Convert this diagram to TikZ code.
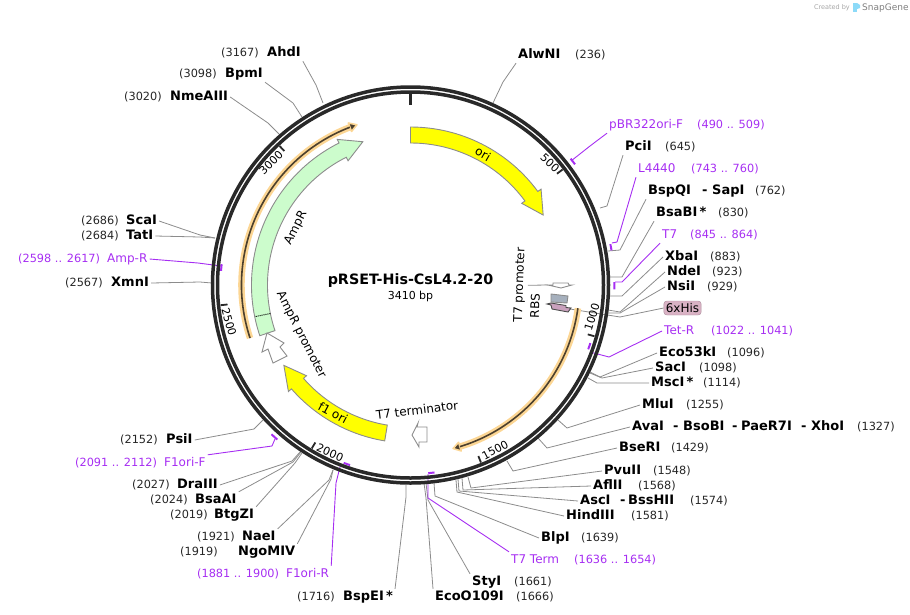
\documentclass[tikz,border=0pt]{standalone}
\usepackage{fontspec}
\setmainfont{DejaVu Sans}
\usetikzlibrary{calc}
\newcommand{\BPTOTAL}{3410}
\newcommand{\LINEPT}{3.5pt}
\definecolor{myring}{rgb}{0.16,0.16,0.16}
\definecolor{mypurple}{rgb}{0.65,0.18,0.95}
\definecolor{mygrey}{rgb}{0.55,0.55,0.55}
\definecolor{myyellow}{rgb}{1.0,1.0,0.0}
\definecolor{mygreen}{rgb}{0.80,0.99,0.80}
\definecolor{myorange}{rgb}{0.99,0.84,0.58}
\definecolor{mybrown}{rgb}{0.30,0.25,0.18}
\definecolor{myslate}{rgb}{0.65,0.69,0.74}
\definecolor{mypink}{rgb}{0.79,0.63,0.74}
\definecolor{myhis}{rgb}{0.85,0.70,0.77}
\tikzset{
	enzlabel/.style={font=\fontsize{13}{15}\selectfont\bfseries,inner sep=2pt,anchor=west,xshift=-2pt,yshift=-1pt,text height=9.5pt,text depth=2.5pt},
	numlabel/.style={font=\fontsize{11.3}{14}\selectfont,color=black!85,inner sep=2pt,anchor=west,xshift=-2pt,yshift=-1pt,text height=9.5pt,text depth=2.5pt},
	primlabel/.style={font=\fontsize{12}{14}\selectfont,color=mypurple,inner sep=2pt,anchor=west,xshift=-2pt,yshift=-1pt,text height=9.5pt,text depth=2.5pt},
	primnum/.style={numlabel,color=mypurple},
	featlabel/.style={font=\fontsize{12}{14}\selectfont,inner sep=2pt},
	ticklabel/.style={font=\fontsize{11}{13}\selectfont,inner sep=1pt},
	leader/.style={color=mygrey,line width=0.8pt},
	primleader/.style={color=mypurple,line width=0.9pt},
	primmark/.style={color=mypurple,line width=2pt},
	feat/.style={draw=mygrey,line width=0.9pt},
	ringline/.style={color=myring,line width=\LINEPT},
}
% body of a directional feature, angles clockwise from the top
\newcommand{\FEATPATH}[5]{
	({90-#1}:#4) arc ({90-#1}:{90-#2}:#4) -- ({90-#2}:{#4-4}) -- ({90-#3}:{(#4+#5)/2}) -- ({90-#2}:{#5+4}) -- ({90-#2}:#5) arc ({90-#2}:{90-#1}:#5) -- cycle
}
\begin{document}
\begin{tikzpicture}[x=1pt,y=1pt]
	\useasboundingbox (0,0) rectangle (910,-614);
	\coordinate (cen) at (410.5,-285);

	%% enzyme sites
	\foreach \txt/\lx/\ly/\nx/\num/\ax/\ay/\bx/\by/\anc in {
		AlwNI/518/54/575/236/493/103/503/82/south west,
		AhdI/267/52/221/3167/323/103/316/85/south east,
		BpmI/225/73/179/3098/302/117/293/103/south east,
		NmeAIII/170/96/124/3020/279/134/268/123/east,
		ScaI/126/220/81/2686/215/238/200/235/east,
		TatI/126/235/81/2684/215/238/200/237/east,
		XmnI/111/282/65/2567/212/283/200/282/east,
		PsiI/166/439/120/2152/263/420/254/429/east,
		DraIII/177/484/132/2027/300/452/292/461/east,
		BsaAI/195/499/150/2024/301/452/293/462/north east,
		BtgZI/214/514/170/2019/302/453/295/463/north east,
		NaeI/242/536/197/1921/333/470/329/480/north east,
		NgoMIV/238/551/180/1919/333/470/331/479/north east,
		BspEI\,*/343/596/297/1716/406/485/406/497/north east,
		EcoO109I/435/596/516/1666/424/483/426/498/north west,
		StyI/472/581/514/1661/426/483/428/500/north west,
		BlpI/541/537/581/1639/434/483/435/496/west,
		HindIII/566/515/631/1581/456/480/457/492/west,
		AscI/580/500/690/1574/458/479/459/491/west,
		AflII/593/485/638/1568/462/478/463/490/west,
		PvuII/604/470/653/1548/468/477/471/488/west,
		BseRI/619/447/671/1429/507/461/513/471/west,
		AvaI/632/426/857/1327/538/438/547/448/west,
		MluI/642/404/686/1255/558/420/567/428/west,
		MscI\,*/651/382/703/1114/588/378/597/383/west,
		SacI/655/367/699/1098/590/373/602/378/west,
		Eco53kI/659/352/727/1096/590/372/600/377/west,
		NsiI/667/286/707/929/608/313/620/313/west,
		NdeI/667/271/712/923/608/310/620/312/west,
		XbaI/665/256/710/883/610/296/622/296/west,
		BsaBI\,*/656/212/718/830/610/277/622/277/south west,
		BspQI/648/190/755/762/608/251/620/250/south west,
		PciI/625/146/665/645/600/208/607/206/south west}{
		\node[enzlabel] (e\num) at (\lx,-\ly) {\txt};
		\node[numlabel] (n\num) at (\nx,-\ly) {(\num)};
		\coordinate (e\num-a) at (\ax,-\ay);
		\coordinate (e\num-b) at (\bx,-\by);
		\draw[leader] (e\num-a) -- (e\num-b) -- (e\num.\anc);
	}

	%% names that share a site
	\foreach \nm/\txt/\lx/\ly in {
		d1/-/620/500, x1/BssHII/628/500,
		d2/-/673/426, x2/BsoBI/683/426,
		d3/-/732/426, x3/PaeR7I/741/426,
		d4/-/801/426, x4/XhoI/811/426,
		d5/-/702/190, x5/SapI/712/190}{
		\node[enzlabel] (\nm) at (\lx,-\ly) {\txt};
	}

	%% primers
	\foreach \txt/\lx/\ly/\nx/\pa/\pb/\rad/\ax/\ay/\bx/\by/\anc in {
		pBR322ori-F/609/124/697/490/509/204/571/161/590/146/south west,
		L4440/638/168/691/743/760/204/612/243/617/242/south west,
		T7/662/234/690/845/864/204/615/282/622/282/south west,
		Tet-R/664/330/711/1022/1041/189/590/352/609/357/west,
		T7 Term/511/559/574/1636/1654/189/428/474/428/498/north west,
		F1ori-R/286/573/197/1881/1900/190/340/467/336/483/north east,
		F1ori-F/164/462/75/2091/2112/204/275/439/272/446/north east,
		Amp-R/107/258/18/2598/2617/190/221/266/198/263/east}{
		\pgfmathsetmacro{\anga}{\pa/\BPTOTAL*360}
		\pgfmathsetmacro{\angb}{\pb/\BPTOTAL*360}
		\node[primlabel] (p\pa) at (\lx,-\ly) {\txt};
		\node[primnum] (q\pa) at (\nx,-\ly) {(\pa{} .. \pb)};
		\coordinate (p\pa-a) at (\ax,-\ay);
		\coordinate (p\pa-b) at (\bx,-\by);
		\draw[primleader] (p\pa-a) -- (p\pa-b) -- (p\pa.\anc);
		\draw[primmark,shift={(cen)}] ({90-\anga}:\rad) arc ({90-\anga}:{90-\angb}:\rad);
	}

	%% 6xHis tag
	\node[font=\fontsize{12}{14}\selectfont,fill=myhis,draw=myhis!80!black,rounded corners=3pt,inner xsep=2pt,inner ysep=1.5pt,text height=9.5pt,text depth=1.5pt] (his) at (682.5,-308) {6xHis};
	\coordinate (his-a) at (570,-309);
	\coordinate (his-b) at (620,-317);
	\draw[leader] (his-a) -- (his-b) -- (his.west);

	%% plasmid ring
	\draw[ringline] (cen) circle [radius=198];
	\draw[ringline] (cen) circle [radius=193];

	\begin{scope}[shift={(cen)}]
		%% ticks
		\draw[color=myring,line width=3pt] (90:180) -- (90:193);
		\foreach \bp in {500,1000,1500,2000,2500,3000}{
			\pgfmathsetmacro{\ang}{\bp/\BPTOTAL*360}
			\draw[color=myring,line width=1.8pt] ({90-\ang}:184) -- ({90-\ang}:191);
		}

		%% features
		\draw[feat,fill=myyellow] \FEATPATH{0}{53.7}{62.2}{142}{158};
		\draw[feat,fill=myyellow] \FEATPATH{189.4}{228.9}{237.6}{142}{158};
		\draw[feat,fill=mygreen] \FEATPATH{251.4}{333.3}{341.6}{143}{159};
		\draw[densely dotted,line width=1pt] ({90-258.5}:143) -- ({90-258.5}:159);

		%% orange arcs
		\foreach \ba/\bb/\bc in {251.7/339/341.5,97.9/163/165.4}{
			\draw[color=myorange,line width=6.5pt] ({90-\ba}:169) arc ({90-\ba}:{90-\bb}:169);
			\draw[fill=mybrown,draw=myorange,line width=1.6pt,line join=round] ({90-\bb}:173.5) -- ({90-\bc}:169) -- ({90-\bb}:164.5) -- cycle;
			\draw[color=mybrown,line width=1.6pt] ({90-\ba}:169) arc ({90-\ba}:{90-\bb}:169);
		}
	\end{scope}

	%% small arrows
	\draw[feat,fill=white] (267,-333) -- (284,-343) -- (280,-347) -- (287,-356) -- (273,-363) -- (268,-349) -- (262,-352) -- cycle;
	\draw[feat,fill=white] (412,-435) -- (418,-423) -- (417,-427) -- (427,-427) -- (427,-442) -- (419,-442) -- (419,-447) -- cycle;
	\draw[feat,fill=white] (553,-283) -- (568,-283) -- (569,-285) -- (572,-285) -- (561,-288) -- (548,-285) -- (553,-285) -- cycle;
	\draw[feat,fill=myslate] (551,-294) -- (568,-296) -- (567,-303) -- (551,-302) -- cycle;
	\draw[feat,fill=mypink,draw=black!70] (551,-303) -- (566,-305.5) -- (566,-307.5) -- (571,-308) -- (568,-312) -- (552,-309) -- (551,-305) -- (547,-304) -- cycle;

	%% feature names
	\node[featlabel,rotate=-30] (lori) at (483,-154) {ori};
	\node[featlabel,rotate=63] (lampr) at (296,-228) {AmpR};
	\node[featlabel,rotate=-63] (lamprp) at (301,-335) {AmpR promoter};
	\node[featlabel,rotate=-28] (lf1) at (333,-413) {f1 ori};
	\node[featlabel,rotate=7] (lterm) at (417,-410) {T7 terminator};
	\node[featlabel,rotate=88] (lpro) at (520,-285) {T7 promoter};
	\node[featlabel,rotate=88] (lrbs) at (535,-306) {RBS};
	\coordinate (pro-end) at (548,-285);
	\draw[leader] (lpro.south) -- (pro-end);

	%% tick labels
	\foreach \bp/\lx/\ly/\rot in {500/550/163/-43,1000/592/317/73,1500/495/450/28,2000/330/453/-24,2500/229/322/-74,3000/271/163/45}{
		\node[ticklabel,rotate=\rot] (t\bp) at (\lx,-\ly) {\bp};
	}

	%% title
	\node[font=\fontsize{14.3}{16}\selectfont\bfseries] (title) at (410.5,-281) {pRSET-His-CsL4.2-20};
	\node[font=\fontsize{11}{13}\selectfont,inner sep=0pt] (size) at (410.5,-296) {3410 bp};

	%% watermark
	\node[font=\fontsize{6.5}{8}\selectfont,color=black!35,anchor=east,inner sep=0pt] (mark-a) at (850,-7.5) {Created by};
	\fill[color=cyan!45] (853,-3) rectangle (857,-12);
	\fill[color=cyan!45] (857,-3) -- (860,-5) -- (860,-8) -- (857,-9) -- cycle;
	\node[font=\fontsize{9}{11}\selectfont,color=black!50,anchor=west,inner sep=0pt] (mark-b) at (862,-8) {SnapGene};
\end{tikzpicture}
\end{document}
